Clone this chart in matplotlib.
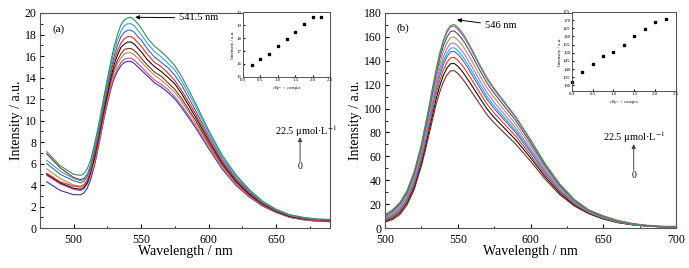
import matplotlib
matplotlib.use('Agg')
import matplotlib.pyplot as plt

plt.rcParams['font.family'] = ['Liberation Serif', 'DejaVu Serif']
plt.rcParams['mathtext.fontset'] = 'stix'

# ---- panel (a) data ----
wl_a = [480, 490, 500, 505, 507.5, 510, 512.5, 515, 517.5, 520, 522.5, 525, 527.5, 530,
        532.5, 535, 537.5, 540, 542.5, 545, 547.5, 550, 555, 560, 565, 570, 575, 580, 590,
        600, 610, 620, 630, 640, 650, 660, 670, 680, 690]
a_purple = [4.3, 3.5, 3.1, 3.1, 3.25, 3.7, 4.5, 5.6, 7.0, 8.6, 10.2, 11.6, 12.9, 13.9,
            14.6, 15.1, 15.4, 15.5, 15.5, 15.3, 15.0, 14.7, 14.1, 13.5, 13.1, 12.6, 12.0, 11.2, 9.4,
            7.4, 5.5, 4.0, 2.9, 2.05, 1.45, 1.0, 0.78, 0.65, 0.6]
a_pink = [4.9, 4.1, 3.6, 3.5, 3.65, 4.1, 4.8, 5.75, 7.15, 8.75, 10.35, 11.8, 13.1, 14.1,
          14.85, 15.4, 15.7, 15.8, 15.8, 15.6, 15.3, 15.0, 14.35, 13.75, 13.35, 12.85, 12.2, 11.4, 9.57,
          7.52, 5.6, 4.07, 2.95, 2.08, 1.47, 1.02, 0.78, 0.64, 0.58]
a_olive = [5.5, 4.6, 4.0, 3.9, 4.05, 4.5, 5.1, 6.0, 7.4, 9.0, 10.6, 12.05, 13.4, 14.5,
           15.3, 15.8, 16.2, 16.3, 16.3, 16.1, 15.8, 15.45, 14.8, 14.2, 13.75, 13.2, 12.6, 11.8, 9.85,
           7.73, 5.75, 4.2, 3.04, 2.14, 1.5, 1.05, 0.82, 0.69, 0.64]
a_brown = [6.9, 5.6, 4.7, 4.5, 4.6, 5.0, 5.5, 6.2, 7.6, 9.2, 10.8, 12.3, 13.7, 14.8,
           15.6, 16.2, 16.6, 16.7, 16.7, 16.5, 16.2, 15.8, 15.1, 14.5, 14.1, 13.5, 12.9, 12.05, 10.1,
           7.9, 5.9, 4.3, 3.1, 2.18, 1.54, 1.07, 0.84, 0.71, 0.66]
a_black = [5.0, 4.2, 3.7, 3.6, 3.75, 4.2, 5.15, 6.5, 7.9, 9.5, 11.1, 12.6, 14.0, 15.2,
           16.1, 16.8, 17.1, 17.3, 17.3, 17.1, 16.75, 16.4, 15.6, 15.0, 14.55, 14.0, 13.4, 12.5, 10.4,
           8.15, 6.07, 4.44, 3.2, 2.25, 1.58, 1.1, 0.88, 0.74, 0.69]
a_red = [5.1, 4.3, 3.9, 3.8, 3.95, 4.4, 5.35, 6.7, 8.1, 9.7, 11.4, 12.9, 14.4, 15.6,
         16.5, 17.2, 17.6, 17.8, 17.8, 17.6, 17.25, 16.9, 16.1, 15.4, 15.0, 14.4, 13.7, 12.8, 10.7,
         8.35, 6.2, 4.56, 3.3, 2.3, 1.62, 1.14, 0.9, 0.7, 0.62]
a_blue = [6.0, 5.0, 4.4, 4.2, 4.35, 4.8, 5.7, 7.0, 8.4, 10.0, 11.7, 13.2, 14.7, 16.0,
          17.0, 17.8, 18.2, 18.4, 18.4, 18.2, 17.8, 17.5, 16.6, 15.9, 15.4, 14.9, 14.2, 13.3, 11.0,
          8.6, 6.4, 4.7, 3.4, 2.37, 1.66, 1.18, 0.94, 0.79, 0.74]
a_teal = [6.3, 5.3, 4.6, 4.4, 4.55, 5.0, 5.9, 7.3, 8.7, 10.3, 12.0, 13.6, 15.1, 16.5,
          17.5, 18.3, 18.8, 19.0, 19.0, 18.8, 18.4, 18.0, 17.1, 16.4, 15.9, 15.3, 14.7, 13.7, 11.4,
          8.9, 6.6, 4.9, 3.5, 2.4, 1.7, 1.2, 0.97, 0.82, 0.77]
a_green = [7.1, 5.8, 5.0, 4.9, 5.05, 5.5, 6.3, 7.6, 9.0, 10.6, 12.3, 13.9, 15.5, 16.9,
           18.0, 18.9, 19.35, 19.55, 19.6, 19.35, 19.0, 18.6, 17.6, 16.9, 16.4, 15.8, 15.1, 14.1, 11.7,
           9.1, 6.8, 5.0, 3.6, 2.5, 1.75, 1.25, 1.0, 0.85, 0.8]

ratio_a = [0.25, 0.5, 0.75, 1.0, 1.25, 1.5, 1.75, 2.0, 2.25]
inset_a = [15.9, 16.35, 16.8, 17.4, 17.95, 18.5, 19.1, 19.6, 19.65]

# ---- panel (b) data ----
wl_b = [500, 505, 510, 515, 520, 525, 527.5, 530, 532.5, 535, 537.5, 540, 542.5, 545,
        547.5, 550, 552.5, 555, 557.5, 560, 565, 570, 575, 580, 585, 590,
        600, 610, 620, 630, 640, 650, 660, 670, 680, 690, 700]
b_brown = [5.0, 7.0, 11.0, 19.0, 32.0, 52.0, 64.0, 77.0, 90.0, 103.0, 113.5, 122.0, 128.0, 131.5,
           131.8, 129.5, 126.0, 122.0, 117.5, 113.0, 104.0, 95.0, 88.0, 82.0, 76.0, 70.0,
           56.0, 41.0, 28.0, 18.5, 12.0, 7.5, 4.5, 2.7, 1.6, 1.0, 0.6]
b_black = [5.9, 8.2, 12.6, 20.9, 34.3, 54.8, 67.3, 80.6, 94.1, 107.5, 118.6, 127.5, 133.8, 137.5,
           137.8, 135.5, 132.0, 127.9, 123.3, 118.6, 109.1, 99.8, 92.5, 86.2, 79.9, 73.6,
           58.8, 43.0, 29.4, 19.4, 12.5, 7.9, 4.7, 2.8, 1.7, 1.0, 0.6]
b_red = [6.7, 9.3, 13.9, 22.4, 36.3, 57.1, 70.0, 83.6, 97.6, 111.3, 122.8, 132.0, 138.6, 142.4,
         142.9, 140.5, 137.0, 132.9, 128.1, 123.3, 113.4, 103.9, 96.3, 89.7, 83.2, 76.6,
         61.1, 44.7, 30.6, 20.1, 12.9, 8.2, 4.9, 2.9, 1.7, 1.06, 0.66]
b_blue = [7.5, 10.3, 15.2, 24.0, 38.2, 59.5, 72.7, 86.6, 101.0, 115.1, 127.0, 136.6, 143.4, 147.5,
          147.9, 145.5, 142.0, 137.8, 132.9, 128.0, 117.7, 107.9, 100.1, 93.2, 86.4, 79.6,
          63.5, 46.4, 31.7, 20.8, 13.2, 8.5, 5.1, 3.0, 1.8, 1.1, 0.68]
b_teal = [8.0, 11.0, 15.9, 24.9, 39.4, 60.9, 74.4, 88.4, 103.1, 117.3, 129.6, 139.3, 146.3, 150.5,
          150.9, 148.5, 145.0, 140.8, 135.8, 130.8, 120.3, 110.3, 102.3, 95.3, 88.4, 81.4,
          64.9, 47.4, 32.4, 21.2, 13.5, 8.7, 5.2, 3.1, 1.8, 1.1, 0.7]
b_violet = [8.6, 11.8, 17.0, 26.2, 41.0, 62.7, 76.5, 90.7, 105.8, 120.3, 132.9, 142.9, 150.1, 154.5,
            154.9, 152.5, 149.0, 144.7, 139.6, 134.5, 123.7, 113.5, 105.3, 98.1, 90.9, 83.7,
            66.7, 48.8, 33.4, 21.8, 13.8, 9.0, 5.6, 3.4, 2.1, 1.4, 1.0]
b_olive = [9.4, 12.8, 18.3, 27.7, 42.9, 65.1, 79.3, 93.7, 109.3, 124.1, 137.1, 147.4, 154.9, 159.5,
           159.9, 157.5, 154.0, 149.6, 144.4, 139.2, 128.0, 117.5, 109.1, 101.6, 94.2, 86.7,
           69.1, 50.5, 34.5, 22.5, 14.2, 9.3, 5.6, 3.3, 1.9, 1.15, 0.75]
b_navy = [10.1, 13.9, 19.6, 29.3, 44.9, 67.4, 82.0, 96.7, 112.7, 127.9, 141.4, 152.0, 159.7, 164.5,
          165.0, 162.5, 159.0, 154.6, 149.2, 143.9, 132.3, 121.6, 112.9, 105.1, 97.4, 89.7,
          71.4, 52.1, 35.7, 23.2, 14.6, 9.6, 5.8, 3.4, 1.95, 1.17, 0.77]
b_pink = [10.8, 14.7, 20.6, 30.5, 46.4, 69.3, 84.2, 99.1, 115.5, 130.9, 144.7, 155.6, 163.6, 168.5,
          169.0, 166.5, 163.0, 158.5, 153.1, 147.6, 135.7, 124.8, 115.9, 107.9, 100.0, 92.1,
          73.3, 53.5, 36.6, 23.8, 15.2, 10.3, 6.4, 3.9, 2.4, 1.6, 1.4]
b_green = [11.0, 15.0, 21.0, 31.0, 47.0, 70.0, 85.0, 100.0, 116.5, 132.0, 146.0, 157.0, 165.0, 169.5,
           170.5, 168.0, 164.5, 160.0, 154.5, 149.0, 137.0, 126.0, 117.0, 109.0, 101.0, 93.0,
           74.0, 54.0, 37.0, 24.0, 15.0, 10.0, 6.0, 3.5, 2.0, 1.2, 0.8]

ratio_b = [0.0, 0.25, 0.5, 0.75, 1.0, 1.25, 1.5, 1.75, 2.0, 2.25]
inset_b = [132.1, 138.3, 143.0, 147.7, 150.7, 154.8, 160.4, 164.7, 169.0, 170.7]

curves_a = [(a_purple, '#3c3592'), (a_pink, '#e8409a'), (a_olive, '#9c9a52'),
            (a_brown, '#8e2a22'), (a_black, '#111111'), (a_red, '#ec2a1e'),
            (a_blue, '#3a64c4'), (a_teal, '#3fa0b4'), (a_green, '#3a8a62')]
curves_b = [(b_brown, '#7e2a24'), (b_black, '#111111'), (b_red, '#f03a22'),
            (b_blue, '#3a6cbc'), (b_teal, '#3ea4c0'), (b_violet, '#b46ed6'),
            (b_olive, '#a09c52'), (b_navy, '#4a4a9a'), (b_pink, '#e24088'),
            (b_green, '#3c9a50')]


def style_main(ax):
    ax.tick_params(direction='in', which='both', labelsize=8.5, length=3)
    ax.tick_params(which='minor', length=1.8)
    ax.tick_params(axis='x', pad=4.5)
    ax.tick_params(axis='y', pad=2.5)
    for s in ax.spines.values():
        s.set_linewidth(0.8)
        s.set_color('#555555')


def style_inset(ax):
    ax.tick_params(direction='in', which='both', labelsize=3.5, length=1.5, pad=1)
    for s in ax.spines.values():
        s.set_linewidth(0.7)
        s.set_color('#555555')


fig = plt.figure(figsize=(6.89, 2.68), dpi=100)

# ---------- (a) ----------
ax1 = fig.add_axes([0.058, 0.149, 0.421, 0.8025])
for y, c in curves_a:
    ax1.plot(wl_a, y, color=c, lw=0.8)
ax1.set_xlim(480, 690)
ax1.set_ylim(0, 20)
ax1.set_xticks([500, 550, 600, 650])
ax1.set_xticks([475, 525, 575, 625, 675], minor=True)
ax1.set_yticks(range(0, 21, 2))
ax1.set_yticks(range(1, 20, 2), minor=True)
ax1.set_xlabel('Wavelength / nm', fontsize=10, labelpad=-1)
ax1.set_ylabel('Intensity / a.u.', fontsize=10, labelpad=1)
style_main(ax1)
ax1.text(484, 18.3, '(a)', fontsize=8)
ax1.annotate('541.5 nm', xy=(545.5, 19.6), xytext=(578, 19.55), fontsize=7.5, va='center',
             arrowprops=dict(arrowstyle='-|>', color='k', lw=0.7, mutation_scale=6, shrinkA=1, shrinkB=0))
ax1.text(649, 9.05, '22.5 μmol·L$^{-1}$', fontsize=7.5, va='center')
ax1.annotate('', xy=(667.8, 8.45), xytext=(667.8, 6.2),
             arrowprops=dict(arrowstyle='-|>', color='#444444', lw=0.7, mutation_scale=6, shrinkA=0, shrinkB=0))
ax1.text(667.8, 5.75, '0', fontsize=7, ha='center', va='center')

ins1 = fig.add_axes([0.3527, 0.7127, 0.1263, 0.2425])
ins1.plot(ratio_a, inset_a, 's', color='k', ms=1.6)
ins1.set_xlim(0, 2.5)
ins1.set_ylim(15, 20)
ins1.set_xticks([0.0, 0.5, 1.0, 1.5, 2.0, 2.5])
ins1.set_yticks([15, 16, 17, 18, 19, 20])
ins1.set_xlabel(r'$c_{\rm Hg^{2+}}$ / $c_{\rm complex}$', fontsize=3.5, labelpad=1)
ins1.set_ylabel('Intensity / a.u.', fontsize=3.5, labelpad=1)
style_inset(ins1)

# ---------- (b) ----------
ax2 = fig.add_axes([0.5588, 0.149, 0.4224, 0.8025])
for y, c in curves_b:
    ax2.plot(wl_b, y, color=c, lw=0.8)
ax2.set_xlim(500, 700)
ax2.set_ylim(0, 180)
ax2.set_xticks([500, 550, 600, 650, 700])
ax2.set_xticks([525, 575, 625, 675], minor=True)
ax2.set_yticks(range(0, 181, 20))
ax2.set_yticks(range(10, 180, 20), minor=True)
ax2.set_xlabel('Wavelength / nm', fontsize=10, labelpad=-1)
ax2.set_ylabel('Intensity / a.u.', fontsize=10, labelpad=1)
style_main(ax2)
ax2.text(508, 165, '(b)', fontsize=8)
ax2.annotate('546 nm', xy=(549.5, 174.3), xytext=(568.5, 169.6), fontsize=7.5, va='center',
             arrowprops=dict(arrowstyle='-|>', color='k', lw=0.7, mutation_scale=6, shrinkA=1, shrinkB=0))
ax2.text(650, 75.9, '22.5 μmol·L$^{-1}$', fontsize=7.5, va='center')
ax2.annotate('', xy=(670.9, 70.3), xytext=(670.9, 48.5),
             arrowprops=dict(arrowstyle='-|>', color='#444444', lw=0.7, mutation_scale=6, shrinkA=0, shrinkB=0))
ax2.text(670.9, 43.7, '0', fontsize=7, ha='center', va='center')

ins2 = fig.add_axes([0.830, 0.6604, 0.151, 0.295])
ins2.plot(ratio_b, inset_b, 's', color='k', ms=1.6, clip_on=False)
ins2.set_xlim(0, 2.5)
ins2.set_ylim(126.5, 175)
ins2.set_xticks([0.0, 0.5, 1.0, 1.5, 2.0, 2.5])
ins2.set_yticks(range(130, 176, 5))
ins2.set_xlabel(r'$c_{\rm Hg^{2+}}$ / $c_{\rm complex}$', fontsize=3.5, labelpad=1)
ins2.set_ylabel('Intensity / a.u.', fontsize=3.5, labelpad=1)
style_inset(ins2)

plt.savefig('out.png', dpi=100)
plt.close()
